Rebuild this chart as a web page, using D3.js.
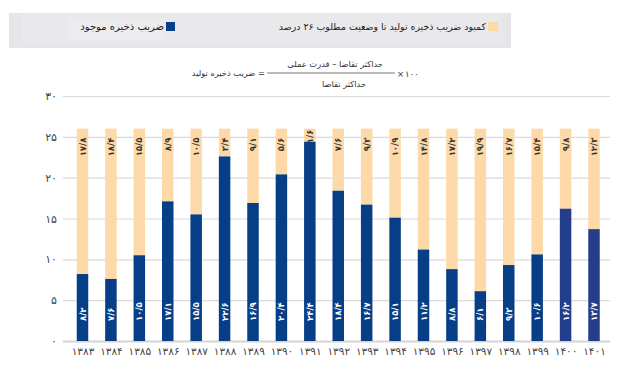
<!DOCTYPE html>
<html><head><meta charset="utf-8">
<script src="https://cdn.jsdelivr.net/npm/d3@7"></script>
<style>body{margin:0;background:#fff}svg{display:block;font-family:"DejaVu Sans",sans-serif}</style>
</head><body><svg id="c" width="631" height="378"></svg>
<script>
const years = ["۱۳۸۳","۱۳۸۴","۱۳۸۵","۱۳۸۶","۱۳۸۷","۱۳۸۸","۱۳۸۹","۱۳۹۰","۱۳۹۱","۱۳۹۲","۱۳۹۳","۱۳۹۴","۱۳۹۵","۱۳۹۶","۱۳۹۷","۱۳۹۸","۱۳۹۹","۱۴۰۰","۱۴۰۱"];
const reserve = [8.2,7.6,10.5,17.1,15.5,22.6,16.9,20.4,24.4,18.4,16.7,15.1,11.2,8.8,6.1,9.3,10.6,16.2,13.7];
const deficit = [17.8,18.4,15.5,8.9,10.5,3.4,9.1,5.6,1.6,7.6,9.3,10.9,14.8,17.2,19.9,16.7,15.4,9.8,12.3];
const yTicks = [0,5,10,15,20,25,30];
const seriesNames = ["ضریب ذخیره موجود","کمبود ضریب ذخیره تولید تا وضعیت مطلوب ۲۶ درصد"];

const fa = s => String(s).replace(/[0-9]/g, d => "۰۱۲۳۴۵۶۷۸۹"[d]).replace(/\./g, "/");
const fmt = v => fa(v.toFixed(1));

const svg = d3.select("#c");
const x = d3.scalePoint().domain(years).range([82.5, 594]);
const y = d3.scaleLinear().domain([0, 30]).range([341, 96]);
const bw = 11.5;
const blue = (i) => i >= 17 ? "#253e8c" : "#063f87";
const orange = "#fdd9a8";

// legend background
svg.append("rect").attr("x",9).attr("y",13).attr("width",502).attr("height",35).attr("fill","#e6e6e8");
svg.append("rect").attr("x",22).attr("y",13).attr("width",481).attr("height",32).attr("fill","#e9e9eb");
svg.append("rect").attr("x",67).attr("y",18).attr("width",97).attr("height",21).attr("fill","#ececee");
svg.append("rect").attr("x",488).attr("y",22).attr("width",10).attr("height",9).attr("fill",orange);
svg.append("text").attr("x",486).attr("y",30).attr("direction","rtl").attr("text-anchor","start")
  .attr("font-size",9.4).attr("fill","#1a1a1a").text(seriesNames[1]);
svg.append("rect").attr("x",166).attr("y",22).attr("width",9).attr("height",9).attr("fill","#063f87");
svg.append("text").attr("x",164).attr("y",30).attr("direction","rtl").attr("text-anchor","start")
  .attr("font-size",10).attr("fill","#1a1a1a").text(seriesNames[0]);

// formula
const fg = svg.append("g").attr("font-size",8.3).attr("fill","#333");
fg.append("text").attr("x",265).attr("y",76).attr("direction","rtl").attr("text-anchor","start").text("= ضریب ذخیره تولید");
fg.append("line").attr("x1",267).attr("x2",395).attr("y1",73).attr("y2",73).attr("stroke","#555").attr("stroke-width",0.8);
fg.append("text").attr("x",383).attr("y",67).attr("direction","rtl").attr("text-anchor","start").text("حداکثر تقاضا   –   قدرت عملی");
fg.append("text").attr("x",344).attr("y",87).attr("text-anchor","middle").text("حداکثر تقاضا");
fg.append("text").attr("x",397).attr("y",76.5).attr("font-size",8.5).text("×");
fg.append("text").attr("x",405).attr("y",76.5).attr("font-size",8.5).text("۱۰۰");

// grid + y axis
const ya = d3.axisLeft(y).tickValues(yTicks).tickSize(-(610-63)).tickFormat(d => fa(d));
const yg = svg.append("g").attr("transform","translate(63,0)").call(ya);
yg.select(".domain").remove();
yg.selectAll(".tick line").attr("stroke","#dadada").attr("stroke-width",1.2);
yg.selectAll(".tick text").attr("x",-6).attr("font-size",11).attr("fill","#444").attr("font-family","DejaVu Sans");
yg.selectAll(".tick").filter(d => d === 0).select("line").attr("stroke","#d4d4d4").attr("stroke-width",2);

// x axis labels
const xa = d3.axisBottom(x).tickSize(0).tickPadding(6);
const xg = svg.append("g").attr("transform","translate(0,342)").call(xa);
xg.select(".domain").remove();
xg.selectAll(".tick text").attr("font-size",10.5).attr("fill","#444").attr("font-family","DejaVu Sans");

// bars
const bars = svg.append("g");
years.forEach((yr, i) => {
  const cx = x(yr);
  const top = reserve[i] + deficit[i];
  bars.append("rect").attr("x", cx - bw/2).attr("width", bw)
    .attr("y", y(top)).attr("height", y(reserve[i]) - y(top)).attr("fill", orange);
  bars.append("rect").attr("x", cx - bw/2).attr("width", bw)
    .attr("y", y(reserve[i])).attr("height", y(0) - y(reserve[i])).attr("fill", blue(i));
});

// labels
const lab = svg.append("g").attr("font-size",8.5).attr("font-weight","bold");
years.forEach((yr, i) => {
  const cx = x(yr);
  lab.append("text").attr("transform", `translate(${cx},${y(0)-20}) rotate(-90)`)
    .attr("text-anchor","start").attr("dominant-baseline","central")
    .attr("fill","#fff").text(fmt(reserve[i]));
  const topY = y(reserve[i] + deficit[i]);
  const segH = y(reserve[i]) - topY;
  const t = lab.append("text").attr("dominant-baseline","central").attr("text-anchor","end")
    .attr("fill","#333").text(fmt(deficit[i]));
  const len = t.node().getComputedTextLength();
  const endY = (len + 9 > segH) ? topY + 1 : topY + 9;
  t.attr("transform", `translate(${cx},${endY}) rotate(-90)`);
});
</script></body></html>
